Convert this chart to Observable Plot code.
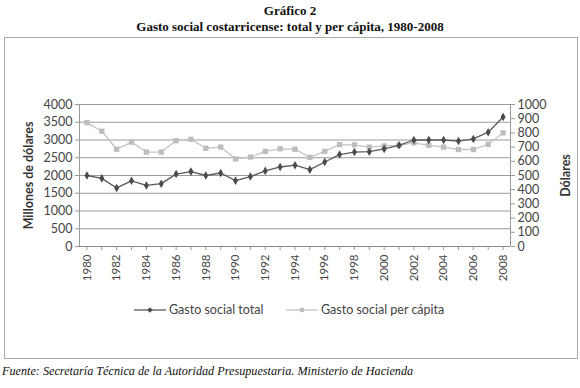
<!DOCTYPE html>
<html>
<head>
<meta charset="utf-8">
<script src="https://cdn.jsdelivr.net/npm/d3@7"></script>
<script src="https://cdn.jsdelivr.net/npm/@observablehq/plot@0.6"></script>
<style>
  html, body { margin: 0; padding: 0; background: #fff; }
  body { width: 580px; height: 388px; position: relative; overflow: hidden; }
  .t1, .t2 { position: absolute; left: 0; width: 580px; text-align: center; font-family: "Liberation Serif", serif; font-weight: bold; font-size: 13px; color: #111; }
  .t1 { top: 3px; }
  .t2 { top: 19px; }
  #frame { position: absolute; left: 4px; top: 37px; width: 572px; height: 320px; border: 1px solid #aaa; box-sizing: content-box; }
  #chart { position: absolute; left: 0; top: 0; }
  #legend { position: absolute; top: 264px; left: 0; width: 572px; font-family: Lato, "Open Sans", sans-serif; font-size: 12.5px; color: #444; }
  .item { position: absolute; display: flex; align-items: center; }
  .item svg { margin-right: 2px; }
  .src { position: absolute; left: 2px; top: 364px; font-family: "Liberation Serif", serif; font-style: italic; font-size: 12.2px; color: #111; }
</style>
</head>
<body>
<div class="t1">Gráfico 2</div>
<div class="t2">Gasto social costarricense: total y per cápita, 1980-2008</div>
<div id="frame">
  <div id="chart"></div>
  <div id="legend"></div>
</div>
<div class="src">Fuente: Secretaría Técnica de la Autoridad Presupuestaria. Ministerio de Hacienda</div>
<script>
const years = [1980,1981,1982,1983,1984,1985,1986,1987,1988,1989,1990,1991,1992,1993,1994,1995,1996,1997,1998,1999,2000,2001,2002,2003,2004,2005,2006,2007,2008];
const gastoTotal = [2000,1920,1650,1850,1720,1770,2040,2110,2000,2070,1855,1970,2130,2240,2290,2165,2380,2590,2660,2670,2750,2850,3000,3000,3000,2970,3030,3220,3650];
const gastoPerCapita = [872,812,685,735,665,665,745,755,692,700,617,630,670,688,685,628,670,718,716,700,708,712,730,712,700,683,683,720,800];
const leftTicks = [0,500,1000,1500,2000,2500,3000,3500,4000];
const rightTicks = [0,100,200,300,400,500,600,700,800,900,1000];
const xLabels = [1980,1982,1984,1986,1988,1990,1992,1994,1996,1998,2000,2002,2004,2006,2008];
const seriesNames = ["Gasto social total", "Gasto social per cápita"];
const ratio = 4; // left units per right unit (4000 / 1000)

const rowsTotal = years.map((y, i) => ({year: y, v: gastoTotal[i]}));
const rowsPc = years.map((y, i) => ({year: y, v: gastoPerCapita[i] * ratio}));

const font = "Lato, 'Open Sans', sans-serif";
const chart = Plot.plot({
  width: 572,
  height: 258,
  marginLeft: 74,
  marginRight: 67,
  marginTop: 66,
  marginBottom: 50,
  style: {fontFamily: font, fontSize: "12px", color: "#444", background: "transparent"},
  x: {domain: [1979.5, 2008.5]},
  y: {domain: [0, 4000]},
  marks: [
    Plot.gridY(leftTicks, {stroke: "#9a9a9a", strokeOpacity: 1, strokeWidth: 1}),
    Plot.ruleX([1979.5], {stroke: "#999"}),
    Plot.ruleX([2008.5], {stroke: "#999"}),
    Plot.ruleY([0], {stroke: "#888"}),
    Plot.axisY(leftTicks, {anchor: "left", tickSize: 4, tickPadding: 3, stroke: "#999", tickFormat: d => String(d), label: null, fontSize: 12.5, fill: "#444"}),
    Plot.axisY(rightTicks.map(v => v * ratio), {anchor: "right", tickSize: 4, tickPadding: 3, stroke: "#999", tickFormat: d => String(d / ratio), label: null, fontSize: 12.5, fill: "#444"}),
    Plot.axisX(years, {tickSize: 4, stroke: "#999", tickFormat: () => "", label: null}),
    Plot.axisX(xLabels, {tickSize: 0, tickPadding: 8, tickRotate: -90, tickFormat: d => String(d), label: null, fontSize: 11.5, fill: "#444"}),
    Plot.text(["Millones de dólares"], {frameAnchor: "left", dx: -51, rotate: -90, textAnchor: "middle", fontWeight: "bold", fontSize: 12.5, fill: "#333"}),
    Plot.text(["Dólares"], {frameAnchor: "right", dx: 55, rotate: -90, textAnchor: "middle", fontWeight: "bold", fontSize: 12.5, fill: "#333"}),
    Plot.line(rowsPc, {x: "year", y: "v", stroke: "#c4c4c4", strokeWidth: 1.3}),
    Plot.dot(rowsPc, {x: "year", y: "v", symbol: "square", r: 3, fill: "#bdbdbd", stroke: "none"}),
    Plot.line(rowsTotal, {x: "year", y: "v", stroke: "#5a5a5a", strokeWidth: 1.3}),
    Plot.dot(rowsTotal, {x: "year", y: "v", symbol: "diamond", r: 2.6, fill: "#4a4a4a", stroke: "none"})
  ]
});
document.getElementById("chart").appendChild(chart);

// Legend
const legend = document.getElementById("legend");
const legendDefs = [
  {name: seriesNames[0], left: 128, stroke: "#5a5a5a", fill: "#4a4a4a", shape: "diamond"},
  {name: seriesNames[1], left: 280, stroke: "#c4c4c4", fill: "#bdbdbd", shape: "square"}
];
legendDefs.forEach(d => {
  const item = document.createElement("div");
  item.className = "item";
  item.style.left = d.left + "px";
  const ns = "http://www.w3.org/2000/svg";
  const s = document.createElementNS(ns, "svg");
  s.setAttribute("width", 34); s.setAttribute("height", 14);
  const ln = document.createElementNS(ns, "line");
  ln.setAttribute("x1", 1); ln.setAttribute("x2", 33); ln.setAttribute("y1", 7); ln.setAttribute("y2", 7);
  ln.setAttribute("stroke", d.stroke); ln.setAttribute("stroke-width", 1.3);
  s.appendChild(ln);
  const sym = document.createElementNS(ns, "path");
  sym.setAttribute("d", d3.symbol(d.shape === "diamond" ? d3.symbolDiamond2 : d3.symbolSquare2, d.shape === "diamond" ? 20 : 22)());
  sym.setAttribute("transform", "translate(17,7)");
  sym.setAttribute("fill", d.fill);
  s.appendChild(sym);
  item.appendChild(s);
  const tx = document.createElement("span");
  tx.textContent = d.name;
  item.appendChild(tx);
  legend.appendChild(item);
});
</script>
</body>
</html>
